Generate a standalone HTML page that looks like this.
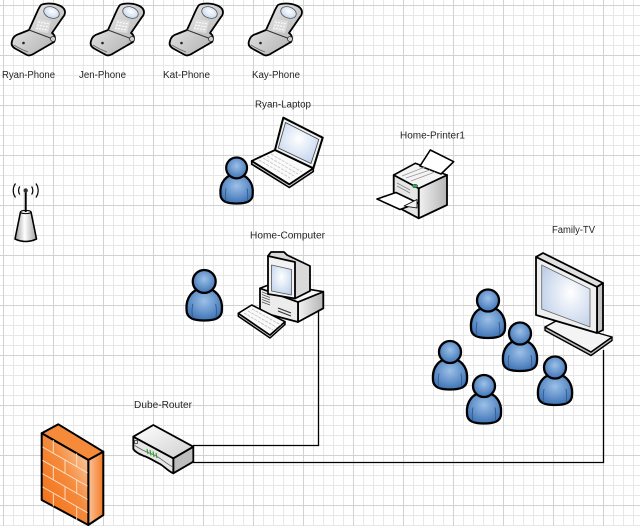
<!DOCTYPE html>
<html><head><meta charset="utf-8"><style>
html,body{margin:0;padding:0;background:#fff;}
svg{display:block;}
text{font-family:"Liberation Sans",sans-serif;font-size:10px;fill:#262626;}
</style></head><body>
<svg width="640" height="526" viewBox="0 0 640 526" xmlns="http://www.w3.org/2000/svg">
<defs>
<pattern id="minor" x="3" y="5" width="10" height="10" patternUnits="userSpaceOnUse">
<path d="M0.5,0 V10 M0,0.5 H10" stroke="#e7e7e7" stroke-width="1" fill="none"/>
</pattern>
<pattern id="major" x="3" y="5" width="50" height="50" patternUnits="userSpaceOnUse">
<path d="M0.5,0 V50 M0,0.5 H50" stroke="#d2d2d2" stroke-width="1" fill="none"/>
</pattern>
<radialGradient id="gp" cx="50%" cy="40%" r="60%">
<stop offset="0" stop-color="#9cc0e8"/><stop offset="1" stop-color="#3f74b6"/>
</radialGradient>
<linearGradient id="gph" x1="0" y1="0" x2="1" y2="1">
<stop offset="0" stop-color="#f4f4f4"/><stop offset="1" stop-color="#a9a9a9"/>
</linearGradient>
<radialGradient id="gscr" cx="50%" cy="40%" r="70%">
<stop offset="0" stop-color="#ffffff"/><stop offset="1" stop-color="#bcd0ec"/>
</radialGradient>
<radialGradient id="gtv" cx="60%" cy="45%" r="70%">
<stop offset="0" stop-color="#ffffff"/><stop offset="1" stop-color="#bccde8"/>
</radialGradient>
<linearGradient id="gside" x1="0" y1="0" x2="1" y2="0">
<stop offset="0" stop-color="#f2f2f2"/><stop offset="1" stop-color="#b5b5b5"/>
</linearGradient>
<linearGradient id="grt" x1="0" y1="0" x2="1" y2="1">
<stop offset="0" stop-color="#ffffff"/><stop offset="1" stop-color="#d0d0d0"/>
</linearGradient>
<linearGradient id="gfw" x1="0" y1="1" x2="1" y2="0">
<stop offset="0" stop-color="#f26a10"/><stop offset="0.55" stop-color="#f58b3d"/><stop offset="1" stop-color="#fbe0c4"/>
</linearGradient>
<linearGradient id="gfwr" x1="0" y1="0" x2="1" y2="0">
<stop offset="0" stop-color="#f9c49c"/><stop offset="1" stop-color="#f47a22"/>
</linearGradient>
<linearGradient id="gant" x1="0" y1="0" x2="1" y2="0">
<stop offset="0" stop-color="#9a9a9a"/><stop offset="0.45" stop-color="#ffffff"/><stop offset="1" stop-color="#a0a0a0"/>
</linearGradient>
</defs>

<rect width="640" height="526" fill="#fff"/>
<rect width="640" height="526" fill="url(#minor)"/>
<rect width="640" height="526" fill="url(#major)"/>

<!-- connectors -->
<path d="M318.5,308 V445.5 H193" stroke="#000" stroke-width="1.3" fill="none"/>
<path d="M193,462.5 H603.5 V350" stroke="#000" stroke-width="1.3" fill="none"/>

<!-- phones -->
<g>
<path d="M41,5 C45,3 53,3 58,5 C62,6 65,9 65,12 C65,14 64,16 63,17 L52,33 C55,35 56,39 54,42 L35,53 C32,55 29,56 27,55 L16,49 C12,47 11,44 12,41 C13,37 15,35 19,34 L29,30 L38,10 C39,8 40,6 41,5 Z" fill="url(#gph)" stroke="#000" stroke-width="1.8" stroke-linejoin="round"/>
<ellipse cx="51.5" cy="12.5" rx="8" ry="5.5" transform="rotate(20 51.5 12.5)" fill="url(#gscr)" stroke="#555" stroke-width="0.8"/>
<polygon points="38,19 51,21 48,33 35,31" fill="#dcdcdc"/>
<path d="M38,22 L50,24 M37,25 L49,27 M36,28 L48,30" stroke="#fff" stroke-width="1" stroke-dasharray="2 1" fill="none"/>
<path d="M29,30 L53,39" stroke="#333" stroke-width="1" fill="none"/>
<path d="M14,45 Q20,49 28,52" stroke="#666" stroke-width="0.8" fill="none"/>
<circle cx="23.5" cy="43" r="1.3" fill="#222"/>
<circle cx="53" cy="39" r="2.5" fill="#cfcfcf" stroke="#333" stroke-width="0.8"/>
</g>
<g transform="translate(79,0)">
<path d="M41,5 C45,3 53,3 58,5 C62,6 65,9 65,12 C65,14 64,16 63,17 L52,33 C55,35 56,39 54,42 L35,53 C32,55 29,56 27,55 L16,49 C12,47 11,44 12,41 C13,37 15,35 19,34 L29,30 L38,10 C39,8 40,6 41,5 Z" fill="url(#gph)" stroke="#000" stroke-width="1.8" stroke-linejoin="round"/>
<ellipse cx="51.5" cy="12.5" rx="8" ry="5.5" transform="rotate(20 51.5 12.5)" fill="url(#gscr)" stroke="#555" stroke-width="0.8"/>
<polygon points="38,19 51,21 48,33 35,31" fill="#dcdcdc"/>
<path d="M38,22 L50,24 M37,25 L49,27 M36,28 L48,30" stroke="#fff" stroke-width="1" stroke-dasharray="2 1" fill="none"/>
<path d="M29,30 L53,39" stroke="#333" stroke-width="1" fill="none"/>
<path d="M14,45 Q20,49 28,52" stroke="#666" stroke-width="0.8" fill="none"/>
<circle cx="23.5" cy="43" r="1.3" fill="#222"/>
<circle cx="53" cy="39" r="2.5" fill="#cfcfcf" stroke="#333" stroke-width="0.8"/>
</g>
<g transform="translate(158,0)">
<path d="M41,5 C45,3 53,3 58,5 C62,6 65,9 65,12 C65,14 64,16 63,17 L52,33 C55,35 56,39 54,42 L35,53 C32,55 29,56 27,55 L16,49 C12,47 11,44 12,41 C13,37 15,35 19,34 L29,30 L38,10 C39,8 40,6 41,5 Z" fill="url(#gph)" stroke="#000" stroke-width="1.8" stroke-linejoin="round"/>
<ellipse cx="51.5" cy="12.5" rx="8" ry="5.5" transform="rotate(20 51.5 12.5)" fill="url(#gscr)" stroke="#555" stroke-width="0.8"/>
<polygon points="38,19 51,21 48,33 35,31" fill="#dcdcdc"/>
<path d="M38,22 L50,24 M37,25 L49,27 M36,28 L48,30" stroke="#fff" stroke-width="1" stroke-dasharray="2 1" fill="none"/>
<path d="M29,30 L53,39" stroke="#333" stroke-width="1" fill="none"/>
<path d="M14,45 Q20,49 28,52" stroke="#666" stroke-width="0.8" fill="none"/>
<circle cx="23.5" cy="43" r="1.3" fill="#222"/>
<circle cx="53" cy="39" r="2.5" fill="#cfcfcf" stroke="#333" stroke-width="0.8"/>
</g>
<g transform="translate(237,0)">
<path d="M41,5 C45,3 53,3 58,5 C62,6 65,9 65,12 C65,14 64,16 63,17 L52,33 C55,35 56,39 54,42 L35,53 C32,55 29,56 27,55 L16,49 C12,47 11,44 12,41 C13,37 15,35 19,34 L29,30 L38,10 C39,8 40,6 41,5 Z" fill="url(#gph)" stroke="#000" stroke-width="1.8" stroke-linejoin="round"/>
<ellipse cx="51.5" cy="12.5" rx="8" ry="5.5" transform="rotate(20 51.5 12.5)" fill="url(#gscr)" stroke="#555" stroke-width="0.8"/>
<polygon points="38,19 51,21 48,33 35,31" fill="#dcdcdc"/>
<path d="M38,22 L50,24 M37,25 L49,27 M36,28 L48,30" stroke="#fff" stroke-width="1" stroke-dasharray="2 1" fill="none"/>
<path d="M29,30 L53,39" stroke="#333" stroke-width="1" fill="none"/>
<path d="M14,45 Q20,49 28,52" stroke="#666" stroke-width="0.8" fill="none"/>
<circle cx="23.5" cy="43" r="1.3" fill="#222"/>
<circle cx="53" cy="39" r="2.5" fill="#cfcfcf" stroke="#333" stroke-width="0.8"/>
</g>

<!-- labels -->
<text x="28.5" y="78" text-anchor="middle" textLength="53" lengthAdjust="spacingAndGlyphs">Ryan-Phone</text>
<text x="102.5" y="78" text-anchor="middle" textLength="47" lengthAdjust="spacingAndGlyphs">Jen-Phone</text>
<text x="186.5" y="78" text-anchor="middle" textLength="47" lengthAdjust="spacingAndGlyphs">Kat-Phone</text>
<text x="276" y="78" text-anchor="middle" textLength="48" lengthAdjust="spacingAndGlyphs">Kay-Phone</text>
<text x="283" y="107.5" text-anchor="middle" textLength="56" lengthAdjust="spacingAndGlyphs">Ryan-Laptop</text>
<text x="432.5" y="138.5" text-anchor="middle" textLength="65" lengthAdjust="spacingAndGlyphs">Home-Printer1</text>
<text x="287.5" y="238.5" text-anchor="middle" textLength="75" lengthAdjust="spacingAndGlyphs">Home-Computer</text>
<text x="573.5" y="233" text-anchor="middle" textLength="43" lengthAdjust="spacingAndGlyphs">Family-TV</text>
<text x="163" y="408" text-anchor="middle" textLength="58" lengthAdjust="spacingAndGlyphs">Dube-Router</text>

<!-- antenna -->
<g>
<path d="M20.5,212 L15,239 Q25.7,244 36.5,239 L31,212 Z" fill="url(#gant)" stroke="#000" stroke-width="1.6" stroke-linejoin="round"/>
<ellipse cx="25.7" cy="212" rx="5.2" ry="1.6" fill="#eee" stroke="#000" stroke-width="1"/>
<line x1="25.7" y1="191" x2="25.7" y2="212" stroke="#000" stroke-width="2"/>
<circle cx="25.7" cy="190.5" r="2.2" fill="#333"/>
<path d="M19.8,186.5 A7,7 0 0 0 19.8,194.5 M31.6,186.5 A7,7 0 0 1 31.6,194.5" stroke="#000" stroke-width="1.2" fill="none"/>
<path d="M15.5,183.5 A12,12 0 0 0 15.5,197.5 M35.9,183.5 A12,12 0 0 1 35.9,197.5" stroke="#000" stroke-width="1.2" fill="none"/>
</g>

<!-- laptop -->
<g stroke-linejoin="round">
<polygon points="251.7,161 289.3,184.3 313.3,168.3 313.3,171.5 289.3,187.5 251.7,164.2" fill="#cfcfcf" stroke="#000" stroke-width="1.6"/>
<polygon points="275,150 313.3,168.3 289.3,184.3 251.7,161" fill="#fafafa" stroke="#000" stroke-width="1.8"/>
<path d="M259,160 L290,178 M263,158 L294,176 M267,156 L298,174 M271,154 L302,172" stroke="#c4c4c4" stroke-width="0.8" stroke-dasharray="3 1.2" fill="none"/>
<polygon points="283.3,117.7 322.7,137.7 313.3,168.3 275,150" fill="#f0f0f0" stroke="#000" stroke-width="2"/>
<polygon points="285.5,122.5 318.8,139.5 311,163.5 278.3,148" fill="url(#gscr)" stroke="#444" stroke-width="0.8"/>
</g>

<!-- person near laptop -->
<g transform="translate(219.5,157) scale(0.95)">
<path d="M1,39 C0,27 7,18 18,18 C29,18 36,27 35,39 C35,47 28,49 18,49 C8,49 1,47 1,39 Z" fill="url(#gp)" stroke="#000" stroke-width="2.3"/>
<path d="M7,33 Q5.5,41 7,47 M29,33 Q30.5,41 29,47" stroke="#2f5583" stroke-width="0.8" fill="none"/>
<circle cx="18" cy="11.5" r="11" fill="url(#gp)" stroke="#000" stroke-width="2.3"/>
</g>

<!-- printer -->
<g stroke-linejoin="round">
<polygon points="418.7,188.3 447,175 447,205 418.7,218.3" fill="url(#gside)" stroke="#000" stroke-width="1.8"/>
<polygon points="393.7,175 418.7,188.3 418.7,218.3 393.7,205" fill="#e6e6e6" stroke="#000" stroke-width="1.8"/>
<polygon points="393.7,175 415.3,163.3 447,175 418.7,188.3" fill="#f4f4f4" stroke="#000" stroke-width="1.6"/>
<polygon points="420,166 430.3,150 453.7,161.7 441,174" fill="#fff" stroke="#000" stroke-width="1.6"/>
<path d="M402,176 L425,167 M406,178 L430,170 M411,181 L435,172" stroke="#999" stroke-width="0.8" fill="none"/>
<path d="M397,183 L410,190 M397,186 L410,193" stroke="#888" stroke-width="0.8" fill="none"/>
<ellipse cx="415" cy="186" rx="2.6" ry="1.7" fill="#3c9c5a" stroke="#1a5a30" stroke-width="0.6"/>
<polygon points="377,199 396,192.5 418,203 400,209.5" fill="#fff" stroke="#000" stroke-width="1.6"/>
<polygon points="404,206 417,199.5 417,208" fill="#f2f2f2" stroke="#000" stroke-width="0.8"/>
</g>

<!-- computer base -->
<g stroke-linejoin="round">
<polygon points="298,302 323.3,291.7 323.3,308.3 298,322" fill="url(#gside)" stroke="#000" stroke-width="1.8"/>
<polygon points="260,288.3 298,302 298,322 260,312" fill="#ececec" stroke="#000" stroke-width="1.8"/>
<polygon points="260,288.3 273,283.3 323.3,291.7 298,302" fill="#f7f7f7" stroke="#000" stroke-width="1.6"/>
<path d="M262,292 L270,295 M262,294.5 L270,297.5 M262,297 L270,300 M262,299.5 L270,302.5 M262,302 L270,305" stroke="#555" stroke-width="0.8" fill="none"/>
<path d="M278,308 L291,313 M278,311 L291,316" stroke="#333" stroke-width="1.2" fill="none"/>
<polygon points="268,256 271,252 284,252 287,255 310,266 310,291 295,298.5" fill="#d9d9d9" stroke="#000" stroke-width="1.8"/>
<polygon points="268,256 295,262 295,298.5 268,294" fill="#f2f2f2" stroke="#000" stroke-width="1.8"/>
<polygon points="271.5,265 291.5,269.5 291.5,295 271.5,291" fill="url(#gscr)" stroke="#555" stroke-width="0.8"/>
<polygon points="238.3,313.3 270,335 285,321.7 285,324.5 270,338 238.3,316.2" fill="#c9c9c9" stroke="#000" stroke-width="1.5"/>
<polygon points="238.3,313.3 251.7,305 285,321.7 270,335" fill="#fafafa" stroke="#000" stroke-width="1.6"/>
<path d="M244,313 L273,330 M248,311 L277,327.5 M252,309 L281,325" stroke="#bbb" stroke-width="0.8" stroke-dasharray="3 1" fill="none"/>
</g>

<!-- person near computer -->
<g transform="translate(185.5,269.5) scale(1.04)">
<path d="M1,39 C0,27 7,18 18,18 C29,18 36,27 35,39 C35,47 28,49 18,49 C8,49 1,47 1,39 Z" fill="url(#gp)" stroke="#000" stroke-width="2.2"/>
<path d="M7,33 Q5.5,41 7,47 M29,33 Q30.5,41 29,47" stroke="#2f5583" stroke-width="0.8" fill="none"/>
<circle cx="18" cy="11.5" r="11" fill="url(#gp)" stroke="#000" stroke-width="2.2"/>
</g>

<!-- TV -->
<g stroke-linejoin="round">
<polygon points="545,327 545,330.5 591,355.5 612,340.5 612,337 591,352" fill="#bdbdbd" stroke="#000" stroke-width="1.4"/>
<polygon points="545,327 556,321 612,337 591,352" fill="#f4f4f4" stroke="#000" stroke-width="1.4"/>
<polygon points="536,257 543,253 603,283 597,287" fill="#e0e0e0" stroke="#000" stroke-width="1.8"/>
<polygon points="597,287 603,283 603,330 597,333" fill="#c4c4c4" stroke="#000" stroke-width="1.8"/>
<polygon points="536,257 597,287 597,333 536,315" fill="#efefef" stroke="#000" stroke-width="1.8"/>
<polygon points="541.7,265 590,289 590,327 541.7,309" fill="url(#gtv)" stroke="#666" stroke-width="0.8"/>
</g>

<!-- TV people -->
<g transform="translate(470,289)">
<path d="M1,39 C0,27 7,18 18,18 C29,18 36,27 35,39 C35,47 28,49 18,49 C8,49 1,47 1,39 Z" fill="url(#gp)" stroke="#000" stroke-width="2.3"/>
<path d="M7,33 Q5.5,41 7,47 M29,33 Q30.5,41 29,47" stroke="#2f5583" stroke-width="0.8" fill="none"/>
<circle cx="18" cy="11.5" r="11" fill="url(#gp)" stroke="#000" stroke-width="2.3"/>
</g>
<g transform="translate(502,322)">
<path d="M1,39 C0,27 7,18 18,18 C29,18 36,27 35,39 C35,47 28,49 18,49 C8,49 1,47 1,39 Z" fill="url(#gp)" stroke="#000" stroke-width="2.3"/>
<path d="M7,33 Q5.5,41 7,47 M29,33 Q30.5,41 29,47" stroke="#2f5583" stroke-width="0.8" fill="none"/>
<circle cx="18" cy="11.5" r="11" fill="url(#gp)" stroke="#000" stroke-width="2.3"/>
</g>
<g transform="translate(432,340.5)">
<path d="M1,39 C0,27 7,18 18,18 C29,18 36,27 35,39 C35,47 28,49 18,49 C8,49 1,47 1,39 Z" fill="url(#gp)" stroke="#000" stroke-width="2.3"/>
<path d="M7,33 Q5.5,41 7,47 M29,33 Q30.5,41 29,47" stroke="#2f5583" stroke-width="0.8" fill="none"/>
<circle cx="18" cy="11.5" r="11" fill="url(#gp)" stroke="#000" stroke-width="2.3"/>
</g>
<g transform="translate(466,374.5)">
<path d="M1,39 C0,27 7,18 18,18 C29,18 36,27 35,39 C35,47 28,49 18,49 C8,49 1,47 1,39 Z" fill="url(#gp)" stroke="#000" stroke-width="2.3"/>
<path d="M7,33 Q5.5,41 7,47 M29,33 Q30.5,41 29,47" stroke="#2f5583" stroke-width="0.8" fill="none"/>
<circle cx="18" cy="11.5" r="11" fill="url(#gp)" stroke="#000" stroke-width="2.3"/>
</g>
<g transform="translate(537,356)">
<path d="M1,39 C0,27 7,18 18,18 C29,18 36,27 35,39 C35,47 28,49 18,49 C8,49 1,47 1,39 Z" fill="url(#gp)" stroke="#000" stroke-width="2.3"/>
<path d="M7,33 Q5.5,41 7,47 M29,33 Q30.5,41 29,47" stroke="#2f5583" stroke-width="0.8" fill="none"/>
<circle cx="18" cy="11.5" r="11" fill="url(#gp)" stroke="#000" stroke-width="2.3"/>
</g>

<!-- router -->
<g stroke-linejoin="round">
<polygon points="173.3,458.3 193.3,446.7 193.3,461.7 173.3,473.3" fill="#bdbdbd" stroke="#000" stroke-width="1.8"/>
<path d="M133.3,436.7 L173.3,458.3 L173.3,473.3 C168,471 165,467 160,464 C154,461 150,458 144,456 C139,454 135,452 133.3,449 Z" fill="#e6e6e6" stroke="#000" stroke-width="1.8"/>
<polygon points="133.3,436.7 153.3,425 193.3,446.7 173.3,458.3" fill="url(#grt)" stroke="#000" stroke-width="1.8"/>
<path d="M134,445 C140,449 146,452 152,454 C160,457 165,463 173,467" stroke="#666" stroke-width="0.8" fill="none"/>
<path d="M147,449 L148,454 M150,450 L151,455.5 M153,451.5 L154,457 M156,453 L157,458" stroke="#2aa02a" stroke-width="1.1" fill="none"/>
<rect x="134.5" y="440.5" width="3" height="3" fill="none" stroke="#333" stroke-width="0.8"/>
</g>

<!-- firewall -->
<g stroke-linejoin="round">
<polygon points="41.7,433.3 58.3,424.3 103.3,451.7 88.3,460" fill="#f58a3a" stroke="#000" stroke-width="2"/>
<polygon points="88.3,460 103.3,451.7 103.3,515 88.3,525" fill="url(#gfwr)" stroke="#000" stroke-width="2"/>
<polygon points="41.7,433.3 88.3,460 88.3,525 41.7,500" fill="url(#gfw)" stroke="#000" stroke-width="2"/>
<path d="M42.5,447 L87.5,472.8 M42.5,460.3 L87.5,486.1 M42.5,473.6 L87.5,499.4 M42.5,486.9 L87.5,512.7" stroke="#fde3cc" stroke-width="0.9" fill="none"/>
<path d="M53.3,440 V453.3 M76.7,453.4 V466.7 M65,460 V473.3 M53.3,466.6 V479.9 M76.7,480 V493.3 M65,486.6 V499.9 M53.3,493.2 V506.5 M76.7,506.6 V519.9" stroke="#fde3cc" stroke-width="0.9" fill="none"/>
</g>
</svg>
</body></html>
